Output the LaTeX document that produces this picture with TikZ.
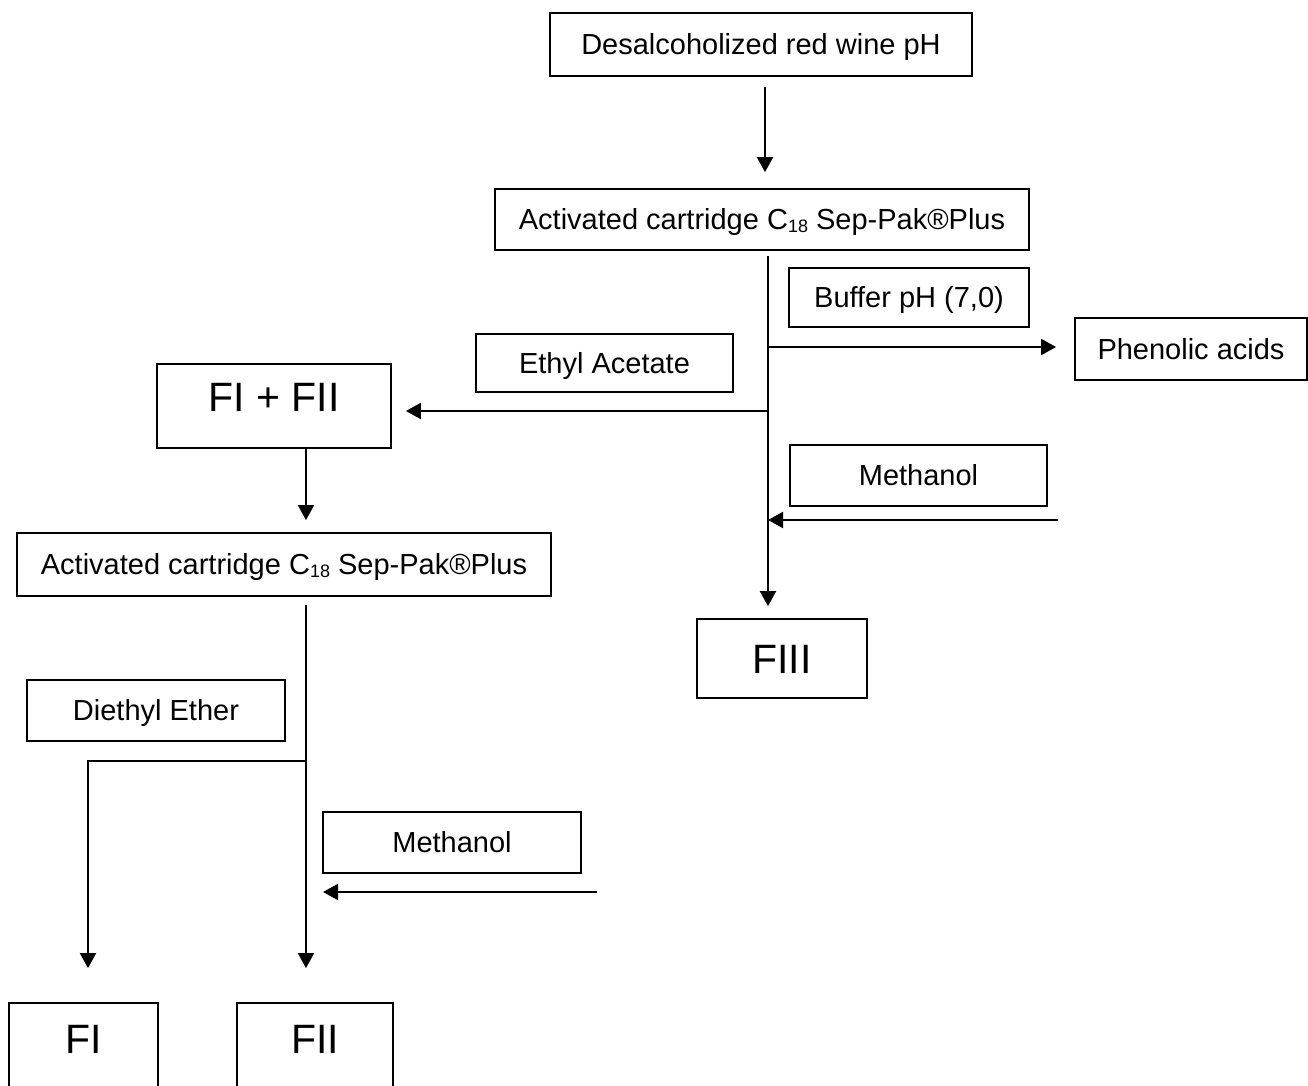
\documentclass[tikz,border=0pt]{standalone}
\usepackage{fontspec}
\setmainfont{Liberation Sans}
\usetikzlibrary{arrows.meta,calc}
\newcommand{\subeighteen}{\raisebox{-1.2pt}{\fontsize{9pt}{10pt}\selectfont 18}}
\begin{document}
\begin{tikzpicture}[x=0.5pt,y=-0.5pt,
  box/.style={draw, line width=0.9pt, inner sep=0pt, font=\fontsize{14.5pt}{17pt}\selectfont, text height=10.4pt, text depth=0pt},
  bigbox/.style={box, font=\fontsize{20.5pt}{24pt}\selectfont, text height=14.7pt},
  arr/.style={line width=1pt, -{Triangle[width=8pt,length=7.5pt]}},
  ln/.style={line width=1pt}]
\clip (0,0) rectangle (1308,1086);
% boxes
\node[box, minimum width=211pt, minimum height=31.5pt] (wine) at (761,44.5) {Desalcoholized red wine pH};
\node[box, minimum width=267pt, minimum height=30.5pt] (cart1) at (762,219.5) {Activated cartridge C\subeighteen\ Sep-Pak®Plus};
\node[box, minimum width=120pt, minimum height=29.5pt] (buffer) at (909,297.5) {Buffer pH (7,0)};
\node[box, minimum width=116pt, minimum height=31pt] (phenolic) at (1191,349) {Phenolic acids};
\node[box, minimum width=128.5pt, minimum height=29pt] (ethyl) at (604.5,363) {Ethyl Acetate};
\node[bigbox, text depth=9pt, minimum width=117pt, minimum height=42pt] (fifii) at (274,406) {FI + FII};
\node[box, minimum width=128.5pt, minimum height=30.5pt] (meth1) at (918.5,475.5) {Methanol};
\node[bigbox, minimum width=85pt, minimum height=39.5pt] (fiii) at (782,658.5) {FIII};
\node[box, minimum width=267pt, minimum height=31.5pt] (cart2) at (284,564.5) {Activated cartridge C\subeighteen\ Sep-Pak®Plus};
\node[box, minimum width=129pt, minimum height=30.5pt] (diethyl) at (156,710.5) {Diethyl Ether};
\node[box, minimum width=129pt, minimum height=30.5pt] (meth2) at (452,842.5) {Methanol};
\node[bigbox, text depth=18pt, minimum width=74.5pt, minimum height=53.5pt] (fi) at (83.5,1056.5) {FI};
\node[bigbox, text depth=18pt, minimum width=78pt, minimum height=53.5pt] (fii) at (315,1056.5) {FII};
% axes and junctions
\coordinate (a1) at (765,0);
\coordinate (t1) at (768,0);
\coordinate (t2) at (306,0);
\coordinate (t3) at (88,0);
\coordinate (j1) at (768,347);
\coordinate (j2) at (768,411);
\coordinate (j3) at (768,520);
\coordinate (m1) at (1058,520);
\coordinate (j4) at (306,761);
\coordinate (m2) at (597,892);
% connectors
\draw[arr, shorten <=5pt, shorten >=8pt] (wine.south -| a1) -- (cart1.north -| a1);
\draw[arr, shorten <=2.5pt, shorten >=6pt] (cart1.south -| t1) -- (fiii.north -| t1);
\draw[arr, shorten >=9pt] (j1) -- (j1 -| phenolic.west);
\draw[arr, shorten >=7pt] (j2) -- (j2 -| fifii.east);
\draw[arr] (m1) -- (j3);
\draw[arr, shorten >=6pt] (fifii.south -| t2) -- (cart2.north -| t2);
\draw[arr, shorten <=4pt, shorten >=17pt] (cart2.south -| t2) -- (fii.north -| t2);
\draw[arr, shorten >=17pt] (j4) -| (fi.north -| t3);
\draw[arr, shorten >=8.5pt] (m2) -- (m2 -| t2);
\end{tikzpicture}
\end{document}
